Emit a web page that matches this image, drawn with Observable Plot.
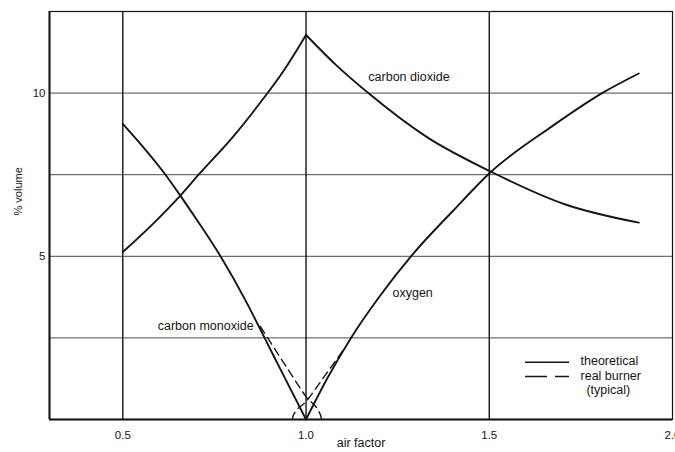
<!DOCTYPE html>
<html><head><meta charset="utf-8">
<script src="https://cdn.jsdelivr.net/npm/d3@7"></script>
<script src="https://cdn.jsdelivr.net/npm/@observablehq/plot@0.6"></script>
<style>html,body{margin:0;padding:0;background:#fff} svg{display:block}</style>
</head><body><div id="chart"></div>
<script>
// ---- data ----
const xTicks = [0.5, 1.0, 1.5, 2.0];
const yTicks = [5, 10];
const yGrid = [2.5, 5, 7.5, 10];
const xGrid = [0.5, 1.0, 1.5];

// carbon dioxide: rising branch (rich) and falling branch (lean), sharing the peak at 1.0
const co2RichAir = [0.5, 0.59, 0.657, 0.707, 0.80, 0.88, 0.94, 1.0];
const co2RichVal = [5.13, 6.08, 6.86, 7.5, 8.65, 9.78, 10.7, 11.78];
const co2LeanAir = [1.0, 1.08, 1.17, 1.33, 1.505, 1.71, 1.908];
const co2LeanVal = [11.78, 10.88, 10.0, 8.65, 7.59, 6.58, 6.03];

const coAir = [0.5, 0.5615, 0.6165, 0.657, 0.70, 0.7666, 0.8348, 0.887, 0.94, 1.0];
const coVal = [9.06, 8.27, 7.5, 6.86, 6.15, 5.0, 3.65, 2.5, 1.32, 0];

const o2Air = [1.0, 1.06, 1.121, 1.2, 1.294, 1.4, 1.505, 1.667, 1.808, 1.908];
const o2Val = [0, 1.3, 2.47, 3.76, 5.1, 6.38, 7.59, 8.95, 10.0, 10.6];

const coRealAir = [0.875, 0.95, 1.0, 1.04, 1.042];
const coRealVal = [2.85, 1.55, 0.7, 0.12, 0];
const o2RealAir = [1.10, 1.05, 1.0, 0.965, 0.963];
const o2RealVal = [2.1, 1.32, 0.55, 0.12, 0];

const curveLabels = ["carbon dioxide", "carbon monoxide", "oxygen"];
const legendLabels = ["theoretical", "real burner", "(typical)"];

// ---- chart ----
const font = "'Liberation Sans', Arial, sans-serif";
const ink = "#151515";
const lbl = {fontSize: 12.5, fill: ink, style: "letter-spacing:0.3px"};
const solid = {stroke: ink, strokeWidth: 1.9, curve: "monotone-x"};
const dashed = {stroke: ink, strokeWidth: 1.4, strokeDasharray: "8,5", curve: "monotone-x"};

const chart = Plot.plot({
  width: 675, height: 452,
  marginLeft: 49, marginRight: 3, marginTop: 11, marginBottom: 33,
  style: {fontFamily: font, fontSize: "11.5px", color: ink, background: "#fff"},
  x: {domain: [0.3, 2.0]},
  y: {domain: [0, 12.5]},
  marks: [
    Plot.ruleY(yGrid, {stroke: "#4a4a4a", strokeWidth: 1}),
    Plot.ruleX(xGrid, {stroke: ink, strokeWidth: 1.4}),
    Plot.frame({stroke: ink, strokeWidth: 1.2}),
    Plot.ruleX([0.3], {stroke: ink, strokeWidth: 2}),
    Plot.ruleY([0], {stroke: ink, strokeWidth: 2}),
    Plot.axisX(xTicks, {tickSize: 0, tickPadding: 11, tickFormat: d3.format(".1f"), label: null, fontSize: 11.5}),
    Plot.axisY(yTicks, {tickSize: 0, tickPadding: 4, label: null, fontSize: 11.5}),
    Plot.line(co2RichAir, {x: co2RichAir, y: co2RichVal, ...solid}),
    Plot.line(co2LeanAir, {x: co2LeanAir, y: co2LeanVal, ...solid}),
    Plot.line(coAir, {x: coAir, y: coVal, ...solid}),
    Plot.line(o2Air, {x: o2Air, y: o2Val, ...solid}),
    Plot.line(coRealAir, {x: coRealAir, y: coRealVal, ...dashed}),
    Plot.line(o2RealAir, {x: o2RealAir, y: o2RealVal, ...dashed}),
    // curve labels
    Plot.text([curveLabels[0]], {x: [1.17], y: [10.48], text: d => d, textAnchor: "start", ...lbl}),
    Plot.text([curveLabels[1]], {x: [0.857], y: [2.85], text: d => d, textAnchor: "end", ...lbl}),
    Plot.text([curveLabels[2]], {x: [1.236], y: [3.89], text: d => d, textAnchor: "start", ...lbl}),
    // legend
    Plot.ruleY([1.755], {x1: 1.599, x2: 1.719, stroke: ink, strokeWidth: 1.4}),
    Plot.ruleY([1.317], {x1: 1.599, x2: 1.719, stroke: ink, strokeWidth: 1.4, strokeDasharray: "22,8"}),
    Plot.text([legendLabels[0]], {x: [1.749], y: [1.777], text: d => d, textAnchor: "start", ...lbl}),
    Plot.text([legendLabels[1]], {x: [1.749], y: [1.348], text: d => d, textAnchor: "start", ...lbl}),
    Plot.text([legendLabels[2]], {x: [1.765], y: [0.919], text: d => d, textAnchor: "start", ...lbl}),
    // axis titles
    Plot.text(["air factor"], {frameAnchor: "bottom", dy: 27, text: d => d, ...lbl}),
    Plot.text(["% volume"], {frameAnchor: "left", dx: -31, dy: 0, rotate: -90, text: d => d, ...lbl, fontSize: 11})
  ]
});
document.getElementById("chart").appendChild(chart);
</script>
</body></html>
